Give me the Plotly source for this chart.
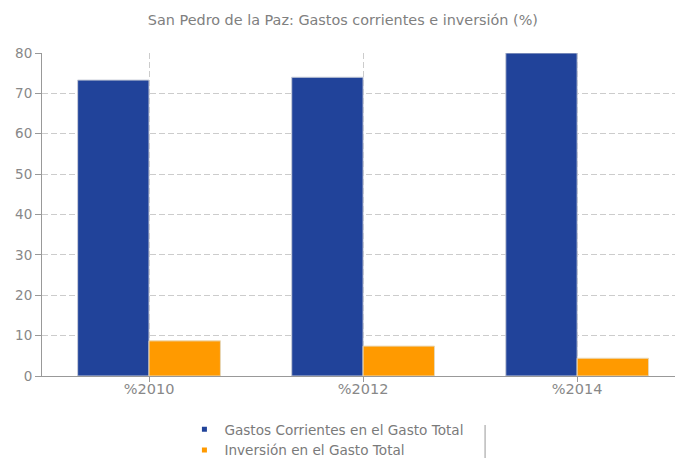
import plotly.graph_objects as go

categories = ["%2010", "%2012", "%2014"]
gastos_corrientes = [73.3, 74.0, 80.0]
inversion = [8.7, 7.4, 4.4]
y_ticks = [0, 10, 20, 30, 40, 50, 60, 70, 80]
series_names = ["Gastos Corrientes en el Gasto Total", "Inversión en el Gasto Total"]
series_colors = ["#21439A", "#FF9A00"]

fig = go.Figure()
fig.add_trace(go.Bar(
    x=categories, y=gastos_corrientes, name=series_names[0], showlegend=False,
    marker=dict(color=series_colors[0], line=dict(color="#C8CCD8", width=1)),
))
fig.add_trace(go.Bar(
    x=categories, y=inversion, name=series_names[1], showlegend=False,
    marker=dict(color=series_colors[1], line=dict(color="#E8D8B8", width=1)),
))
# legend-only entries with small square markers
for name, color in zip(series_names, series_colors):
    fig.add_trace(go.Scatter(
        x=[None], y=[None], mode="markers", name=name,
        marker=dict(symbol="square", size=5, color=color),
    ))

fig.update_layout(
    width=675, height=458,
    paper_bgcolor="white", plot_bgcolor="white",
    margin=dict(l=42, r=0, t=53, b=82, autoexpand=False),
    barmode="group", bargap=0.333, bargroupgap=0,
    font=dict(family="DejaVu Sans, Verdana, sans-serif", color="#888888", size=13),
    title=dict(text="San Pedro de la Paz: Gastos corrientes e inversión (%)",
               x=0.508, xanchor="center", y=0.957, yanchor="middle",
               font=dict(size=14.4, color="#808080")),
    showlegend=True,
    legend=dict(orientation="v", x=0.225, xanchor="left", xref="paper",
                y=0.096, yanchor="top", yref="container",
                font=dict(size=13.6, color="#7a7a7a"), itemwidth=30,
                tracegroupgap=0, bgcolor="rgba(0,0,0,0)"),
    xaxis=dict(
        type="category", range=[-0.5, 2.457], automargin=False,
        showgrid=True, gridcolor="#CCCCCC", griddash="6px,3px", gridwidth=1,
        showline=True, linecolor="#999999", linewidth=1,
        ticks="outside", ticklen=5, tickcolor="#999999",
        ticklabelstandoff=-5,
        tickfont=dict(size=14.5, color="#888888"),
    ),
    yaxis=dict(
        range=[0, 80], tickvals=y_ticks, automargin=False,
        showgrid=True, gridcolor="#CCCCCC", griddash="6px,3px", gridwidth=1,
        showline=True, linecolor="#999999", linewidth=1,
        ticks="outside", ticklen=6, tickcolor="#999999",
        tickfont=dict(size=13.5, color="#888888"),
        zeroline=False,
    ),
    shapes=[dict(type="line", xref="paper", yref="paper",
                 x0=0.70, x1=0.70, y0=-0.152, y1=-0.254,
                 line=dict(color="#BBBBBB", width=1.5))],
)

fig.write_html("out.html", config={"displayModeBar": False},
               post_script="document.body.style.margin='0';")
